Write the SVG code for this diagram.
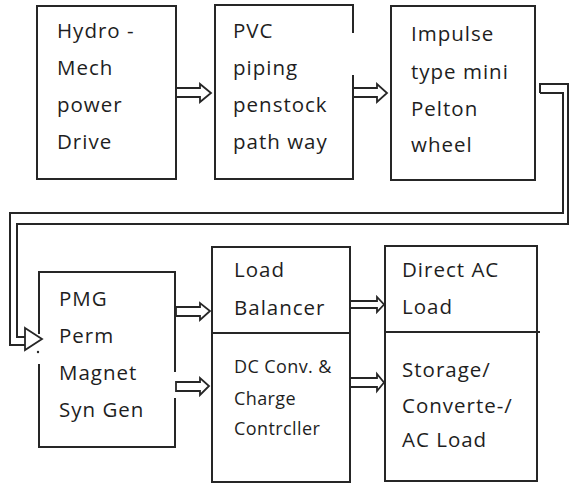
<svg xmlns="http://www.w3.org/2000/svg" width="569" height="484" viewBox="0 0 569 484">
<style>
.b{fill:none;stroke:#262626;stroke-width:2}
.l{fill:none;stroke:#262626;stroke-width:2}
.a{fill:#fff;stroke:#262626;stroke-width:1.8;stroke-linejoin:miter}
text{font-family:"Open Sans","DejaVu Sans",sans-serif;font-size:20.5px;letter-spacing:1px;fill:#1e1e1e}
.s{font-size:18px;letter-spacing:0.4px}
</style>
<rect width="569" height="484" fill="#fff"/>
<g id="connectors">
<polygon class="a" points="176,88 200,88 200,84 211,93 200,102 200,97 176,97"/>
<polygon class="a" points="353,88 377,88 377,84 387,93 377,102 377,97 353,97"/>
<polyline class="l" points="540,93 540,84 568,84 568,224 17,224 17,337 25,337"/>
<polyline class="l" points="540,93 563,93 563,213 10,213 10,345 25,345"/>
<polygon class="a" points="25,328 42,339 25,350"/>
<polygon class="a" points="176,307 200,307 200,303 210,311 200,320 200,316 176,316"/>
<polygon class="a" points="176,382 200,382 200,378 209,386 200,395 200,391 176,391"/>
<polygon class="a" points="350,301 377,301 377,297 384,304.5 377,312 377,308 350,308"/>
<polygon class="a" points="350,378 377,378 377,374 384,382.5 377,391 377,387 350,387"/>
</g>
<g id="n1">
<rect class="b" x="37" y="6" width="139" height="173"/>
<text x="57" y="38">Hydro -</text>
<text x="57" y="75">Mech</text>
<text x="57" y="112">power</text>
<text x="57" y="149">Drive</text>
</g>
<g id="n2">
<path class="b" d="M353,33 V5 H215 V179 H353 V75"/>
<text x="233" y="38">PVC</text>
<text x="233" y="75">piping</text>
<text x="233" y="112">penstock</text>
<text x="233" y="149">path way</text>
</g>
<g id="n3">
<rect class="b" x="391" y="6" width="144" height="174"/>
<text x="411" y="41">Impulse</text>
<text x="411" y="79">type mini</text>
<text x="411" y="116">Pelton</text>
<text x="411" y="152">wheel</text>
</g>
<g id="n4">
<path class="b" d="M39,334 V272 H175 V372 M175,398 V447 H39 V364"/>
<circle cx="38" cy="352" r="1.2" fill="#262626"/>
<text x="59" y="306">PMG</text>
<text x="59" y="343">Perm</text>
<text x="59" y="380">Magnet</text>
<text x="59" y="417">Syn Gen</text>
</g>
<g id="n5">
<rect class="b" x="212" y="247" width="138" height="235"/>
<line class="l" x1="211" y1="333" x2="350" y2="333"/>
<text x="234" y="277">Load</text>
<text x="234" y="315">Balancer</text>
<text class="s" x="234" y="373">DC Conv. &amp;</text>
<text class="s" x="234" y="405">Charge</text>
<text class="s" x="234" y="435">Contrcller</text>
</g>
<g id="n6">
<rect class="b" x="385" y="246" width="152" height="235"/>
<line class="l" x1="385" y1="332" x2="540" y2="332"/>
<text x="402" y="277">Direct AC</text>
<text x="402" y="314">Load</text>
<text x="402" y="377">Storage/</text>
<text x="402" y="413">Converte-/</text>
<text x="402" y="447">AC Load</text>
</g>
</svg>
